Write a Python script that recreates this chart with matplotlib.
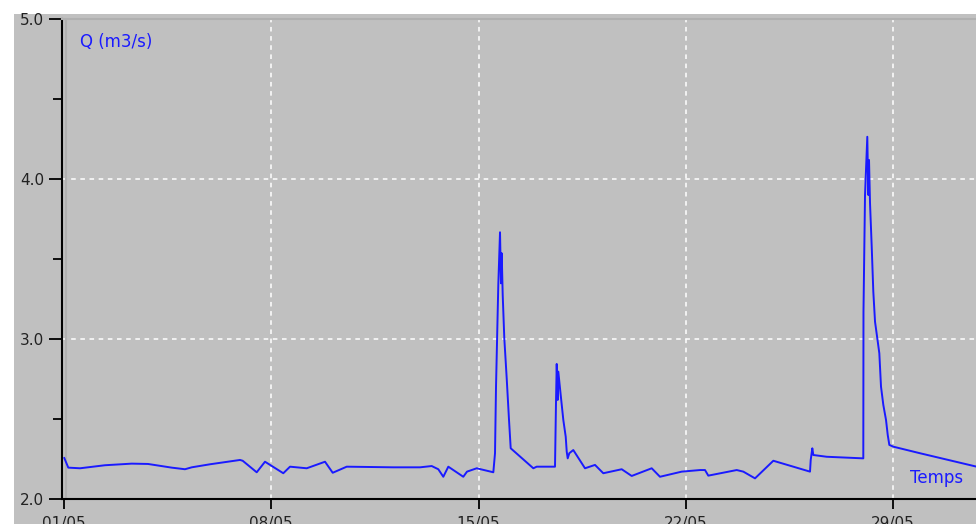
import matplotlib
matplotlib.use("Agg")
import matplotlib.pyplot as plt
from matplotlib.patches import Rectangle

# Time in days since 01/05 00:00, discharge Q in m3/s
days = [0.01, 0.145, 0.54, 1.385, 2.286, 2.837, 3.637, 4.086, 4.313, 4.931,
        5.944, 6.035, 6.508, 6.788, 7.406, 7.633, 8.197, 8.815, 9.075, 9.548,
        11.121, 12.023, 12.418, 12.641, 12.81, 12.979, 13.485, 13.61, 13.938, 14.499,
        14.556, 14.59, 14.667, 14.725, 14.758, 14.782, 14.816, 14.87, 14.951, 15.029,
        15.086, 15.343, 15.85, 15.964, 16.582, 16.616, 16.64, 16.673, 16.694, 16.751,
        16.863, 16.944, 16.978, 17.011, 17.065, 17.2, 17.595, 17.933, 18.213, 18.835,
        19.172, 19.848, 20.128, 20.861, 21.479, 21.648, 21.759, 22.719, 22.942, 23.337,
        23.955, 24.63, 25.194, 25.218, 25.272, 25.306, 25.758, 26.994, 27.0, 27.052,
        27.129, 27.163, 27.187, 27.221, 27.278, 27.332, 27.39, 27.467, 27.535, 27.592,
        27.67, 27.761, 27.819, 27.873, 28.008, 28.909, 30.8]
q = [2.256, 2.196, 2.192, 2.211, 2.221, 2.219, 2.196, 2.186, 2.198, 2.217,
     2.244, 2.239, 2.167, 2.233, 2.161, 2.202, 2.192, 2.233, 2.164, 2.202,
     2.198, 2.198, 2.206, 2.186, 2.139, 2.202, 2.139, 2.171, 2.192, 2.167,
     2.286, 2.702, 3.338, 3.667, 3.348, 3.536, 3.275, 3.004, 2.754, 2.494,
     2.317, 2.275, 2.192, 2.202, 2.202, 2.608, 2.844, 2.619, 2.796, 2.692,
     2.494, 2.389, 2.296, 2.254, 2.286, 2.306, 2.192, 2.213, 2.161, 2.186,
     2.144, 2.192, 2.139, 2.171, 2.181, 2.181, 2.146, 2.181, 2.171, 2.129,
     2.239, 2.202, 2.171, 2.244, 2.317, 2.275, 2.264, 2.254, 3.171, 3.9,
     4.264, 3.9, 4.119, 3.848, 3.577, 3.296, 3.108, 3.004, 2.911, 2.702,
     2.588, 2.494, 2.4, 2.338, 2.327, 2.286, 2.203]

xtick_pos = [0, 7, 14, 21, 28]
xtick_labels = ["01/05", "08/05", "15/05", "22/05", "29/05"]
ytick_pos = [2.0, 3.0, 4.0, 5.0]
ytick_labels = ["2.0", "3.0", "4.0", "5.0"]
yminor_pos = [2.5, 3.5, 4.5]

W, H = 976, 524
plt.rcParams["font.family"] = ["DejaVu Sans"]
fig = plt.figure(figsize=(W / 100, H / 100), dpi=100, facecolor="white")

GRAY = "#c0c0c0"
BLUE = "#1a1aff"

# gray panel (outer window), drawn behind the axes
fig.patches.append(Rectangle((14 / W, 0), 1 - 14 / W, 1 - 14 / H,
                             transform=fig.transFigure, facecolor=GRAY,
                             edgecolor="none", zorder=-10))

left_px, right_px, top_px, bot_px = 62, 976, 19, 499
ax = fig.add_axes([left_px / W, 1 - bot_px / H,
                   (right_px - left_px) / W, (bot_px - top_px) / H])
ax.set_zorder(1)
ax.set_facecolor(GRAY)

ax.set_xlim(-0.0675, 30.80)
ax.set_ylim(2.0, 5.0)

# grid
for xv in xtick_pos[1:]:
    ax.axvline(xv, color="white", lw=1.1, ls=(0, (3, 3)), zorder=1)
for yv in ytick_pos[1:-1]:
    ax.axhline(yv, color="white", lw=1.1, ls=(0, (3, 3)), zorder=1)
ax.axvline(0.07, color="#b0b0b0", lw=1.5, zorder=1)

ax.plot(days, q, color=BLUE, lw=1.4, zorder=3, antialiased=True)

ax.set_xticks(xtick_pos)
ax.set_xticklabels(xtick_labels)
ax.set_yticks(ytick_pos)
ax.set_yticklabels(ytick_labels)
ax.set_yticks(yminor_pos, minor=True)
ax.tick_params(axis="y", which="major", length=9.4, width=1.3, pad=3.6,
               labelsize=11, colors="black", labelcolor="#222222")
ax.tick_params(axis="y", which="minor", length=6.5, width=1.3)
ax.tick_params(axis="x", which="major", length=7.5, width=1.3, pad=4.5,
               labelsize=11, labelcolor="#222222")

for s in ["left", "bottom"]:
    ax.spines[s].set_color("black")
    ax.spines[s].set_linewidth(1.5)
ax.spines["top"].set_color("#b0b0b0")
ax.spines["top"].set_linewidth(1.5)
ax.spines["right"].set_visible(False)

ax.text((80 - left_px) / (right_px - left_px), (bot_px - 42) / (bot_px - top_px),
        "Q (m3/s)", transform=ax.transAxes, color=BLUE, fontsize=12,
        ha="left", va="center")
ax.text((910 - left_px) / (right_px - left_px), (bot_px - 478) / (bot_px - top_px),
        "Temps", transform=ax.transAxes, color=BLUE, fontsize=12,
        ha="left", va="center")

fig.savefig("out.png", dpi=100, facecolor="white")
